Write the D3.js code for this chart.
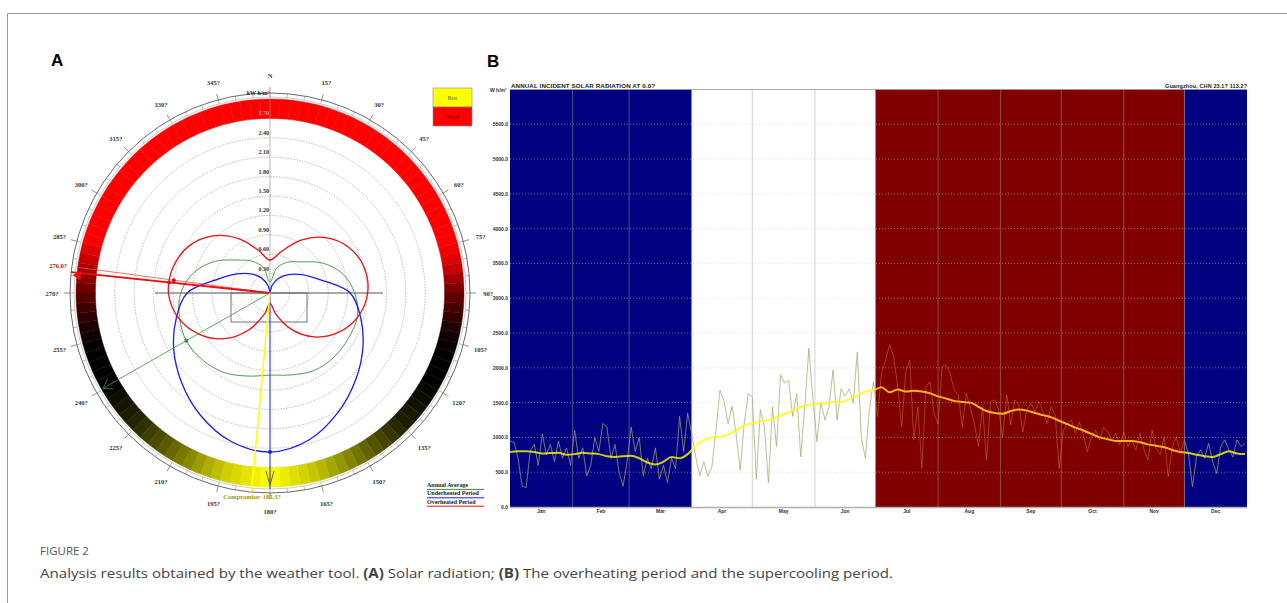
<!DOCTYPE html>
<html><head><meta charset="utf-8">
<script src="https://cdn.jsdelivr.net/npm/d3@7"></script>
<style>body{margin:0;background:#fff}svg{display:block}</style>
</head><body>
<svg id="c" width="1287" height="603"></svg>
<script>
// ---------------- DATA: panel A (polar radiation) ----------------
const polarAngles = [0,15,30,45,60,75,90,105,120,135,150,165,180,195,210,225,240,255,270,285,300,315,330,345];
const overheated  = [0.51,0.66,0.94,1.21,1.41,1.51,1.51,1.41,1.22,0.96,0.64,0.33,0.16,0.34,0.66,1.00,1.27,1.47,1.57,1.55,1.45,1.25,0.97,0.68];
const underheated = [0.02,0.12,0.26,0.40,0.57,0.80,1.24,1.45,1.66,1.88,2.12,2.35,2.46,2.37,2.17,1.94,1.72,1.50,1.28,0.83,0.59,0.42,0.27,0.12];
const annualAvg   = [0.17,0.40,0.55,0.68,0.93,1.16,1.31,1.40,1.40,1.40,1.38,1.31,1.27,1.33,1.42,1.47,1.49,1.45,1.38,1.22,0.98,0.72,0.57,0.41];
const ringValues  = [0.30,0.60,0.90,1.20,1.50,1.80,2.10,2.40,2.70];
const ringLabels  = ["0.30","0.60","0.90","1.20","1.50","1.80","2.10","2.40","2.70"];
const angleTicks  = [0,15,30,45,60,75,90,105,120,135,150,165,180,195,210,225,240,255,270,285,300,315,330,345];
const bandStopAngles = [0,75,83,90,98,106,118,135,150,165,180,195,210,225,240,254,262,270,278,287,360];
const bandStopColors = ['#ff0000','#ff0000','#c00000','#6a0000','#300000','#050000','#000000','#202000','#6a6a00','#c0c000','#ffff00','#c8c800','#707000','#282800','#000000','#050000','#280000','#600000','#b00000','#ff0000','#ff0000'];
const bestOverheated = 276.0, bestOverheated2 = 277.6;
const bestAnnual = 240.3, bestUnderheated = 180.0, compromise = 185.3;

// ---------------- DATA: panel B (daily incident radiation) ----------------
const months = ['Jan','Feb','Mar','Apr','May','Jun','Jul','Aug','Sep','Oct','Nov','Dec'];
const monthStartDays = [0,31,59,90,120,151,181,212,243,273,304,334,365];
const periodStart = [0,90,181,334];
const periodEnd   = [90,181,334,365];
const periodType  = ['under','neutral','over','under'];
const yTicks = [0,500,1000,1500,2000,2500,3000,3500,4000,4500,5000,5500];
// daily values every 2 days (day 0,2,...,364)
const dailyRadiation = [
 950,930,700,300,280,800,900,600,1050,750,900,650,950,700,850,600,
 1100,700,850,450,600,1000,800,1200,1150,700,900,500,300,650,
 1150,800,1000,450,700,550,850,400,600,350,700,550,1300,800,1350,
 1050,720,450,650,440,580,1100,1680,1520,1200,1450,1050,530,1200,1630,
 1580,400,1400,1150,350,1440,870,1900,1780,1820,1300,1630,720,1450,2280,1550,
 940,1500,1250,1440,1970,1250,1700,1590,1700,1500,2230,1000,700,1400,1800,
 1300,1920,2110,2330,2160,1730,1150,1945,2110,965,
 1440,555,1730,1800,1345,1200,2015,2040,1920,1680,
 1610,1150,1630,1420,1200,870,1440,675,1515,1540,
 1395,1010,1610,1180,1540,1465,1080,1395,1490,1370,
 1515,1370,1200,1440,1320,555,1105,1200,1250,1060,
 1225,1035,795,1010,1105,965,1150,1080,965,1060,
 890,1080,870,965,820,1060,820,675,1105,845,
 750,1010,435,870,1010,770,965,770,290,720,
 820,700,915,650,480,870,965,820,720,965,
 870,915];
// smoothed average every 4 days (day 0,4,...,364)
const averageRadiation = [
 790,800,800,790,770,775,780,750,760,780,770,760,730,720,730,735,700,640,610,650,720,700,760,
 880,960,1000,1010,1040,1100,1170,1200,1230,1250,1290,1340,1380,1440,1470,1480,1490,1510,1510,1550,1600,1660,1680,
 1720,1650,1690,1660,1670,1660,1635,1590,1560,1525,1510,1500,1440,1380,1350,1340,1380,1400,1385,1350,1320,1290,1240,
 1190,1140,1100,1050,1000,975,950,950,950,930,900,880,860,820,790,775,750,730,720,760,800,770,760];

// ---------------- DRAW ----------------
const svg = d3.select('#c');
const chartFont = "'Liberation Serif', serif";
const sansFont = "'Liberation Sans', Arial, sans-serif";

// frame
svg.append('path').attr('d','M7.5,603 V13.5 H1287').attr('fill','none').attr('stroke','#9a9a9a').attr('stroke-width',1);

svg.append('text').attr('x',51).attr('y',66).text('A')
  .attr('font-family',sansFont).attr('font-weight','bold').attr('font-size',17).attr('fill','#000');
svg.append('text').attr('x',487).attr('y',67).text('B')
  .attr('font-family',sansFont).attr('font-weight','bold').attr('font-size',17).attr('fill','#000');

// ===== Panel A =====
const cx = 270, cy = 293;
const gA = svg.append('g').attr('transform',`translate(${cx},${cy})`);
const r = d3.scaleLinear().domain([0,3]).range([0,194]);
const rad = a => a*Math.PI/180;
const pt = (a, rp) => [rp*Math.sin(rad(a)), -rp*Math.cos(rad(a))];

// dotted rings
gA.selectAll('circle.ring').data(ringValues).join('circle').attr('class','ring')
  .attr('r',d=>r(d)).attr('fill','none').attr('stroke','#9a9a9a').attr('stroke-width',0.7).attr('stroke-dasharray','1.4,1.4');

// coloured band
const bandColor = d3.scaleLinear().domain(bandStopAngles).range(bandStopColors).interpolate(d3.interpolateRgb);
const arc = d3.arc().innerRadius(r(2.7)).outerRadius(r(3.0));
gA.selectAll('path.band').data(d3.range(0,360,3)).join('path').attr('class','band')
  .attr('d',a=>arc({startAngle:rad(a),endAngle:rad(a+3)}))
  .attr('fill',a=>bandColor(a+1.5)).attr('stroke',a=>bandColor(a+1.5)).attr('stroke-width',0.4);

// outer scale ring
gA.append('circle').attr('r',196).attr('fill','none').attr('stroke','#aaa').attr('stroke-width',0.6);
gA.append('circle').attr('r',200).attr('fill','none').attr('stroke','#444').attr('stroke-width',0.8);
gA.selectAll('line.mt').data(d3.range(0,360,5)).join('line').attr('class','mt')
  .attr('x1',a=>pt(a,196)[0]).attr('y1',a=>pt(a,196)[1])
  .attr('x2',a=>pt(a,200)[0]).attr('y2',a=>pt(a,200)[1])
  .attr('stroke','#777').attr('stroke-width',0.5);
gA.selectAll('line.Mt').data(angleTicks).join('line').attr('class','Mt')
  .attr('x1',a=>pt(a,200)[0]).attr('y1',a=>pt(a,200)[1])
  .attr('x2',a=>pt(a,206)[0]).attr('y2',a=>pt(a,206)[1])
  .attr('stroke','#444').attr('stroke-width',0.6);
gA.selectAll('text.al').data(angleTicks).join('text').attr('class','al')
  .attr('x',a=>pt(a,218)[0]).attr('y',a=>pt(a,218)[1])
  .attr('text-anchor','middle').attr('dominant-baseline','central')
  .attr('font-family',chartFont).attr('font-weight','bold').attr('font-size',6.5).attr('fill','#333')
  .text(a=> a===0 ? 'N' : a+'?');

// axes
gA.append('line').attr('x1',0).attr('y1',0).attr('x2',0).attr('y2',-200).attr('stroke','#999').attr('stroke-width',0.7);
gA.append('line').attr('x1',-115).attr('y1',0).attr('x2',113).attr('y2',0).attr('stroke','#555').attr('stroke-width',1);
gA.append('rect').attr('x',-39).attr('y',0).attr('width',76).attr('height',29)
  .attr('fill','none').attr('stroke','#666').attr('stroke-width',0.9);

// ring value labels
gA.selectAll('text.rl').data(ringValues).join('text').attr('class','rl')
  .attr('x',-1).attr('y',d=>-r(d)-3).attr('text-anchor','end')
  .attr('font-family',chartFont).attr('font-weight','bold').attr('font-size',6)
  .attr('fill',(d,i)=> i===ringValues.length-1 ? '#ff9a9a' : '#333')
  .text((d,i)=>ringLabels[i]);
gA.append('text').attr('x',-12).attr('y',-198).attr('text-anchor','middle')
  .attr('font-family',chartFont).attr('font-weight','bold').attr('font-size',6).attr('fill','#222').text('kW h/m²');

// curves
const radial = d3.lineRadial().angle(d=>rad(d[0])).radius(d=>r(d[1])).curve(d3.curveCatmullRomClosed.alpha(0.5));
const mk = arr => polarAngles.map((a,i)=>[a,arr[i]]);
gA.append('path').attr('d',radial(mk(annualAvg))).attr('fill','none').attr('stroke','#3f8f3f').attr('stroke-width',0.9);
gA.append('path').attr('d',radial(mk(underheated))).attr('fill','none').attr('stroke','#1c1cf0').attr('stroke-width',1.3);
gA.append('path').attr('d',radial(mk(overheated))).attr('fill','none').attr('stroke','#e81010').attr('stroke-width',1.3);

// direction lines
function dirLine(a, len, color, w){
  const p = pt(a,len);
  gA.append('line').attr('x1',0).attr('y1',0).attr('x2',p[0]).attr('y2',p[1]).attr('stroke',color).attr('stroke-width',w);
}
function arrowHead(a, len, color, size){
  const tip = pt(a,len), b1 = pt(a-1.8, len-size), b2 = pt(a+1.8, len-size);
  gA.append('path').attr('d',`M${b1}L${tip}L${b2}`).attr('fill','none').attr('stroke',color).attr('stroke-width',0.8);
}
dirLine(bestAnnual,192,'#3f8f3f',0.8); arrowHead(bestAnnual,192,'#3f8f3f',8);
dirLine(bestUnderheated,196,'#1c1cf0',1); 
gA.append('path').attr('d','M-4,178 L0,192 L4,178').attr('fill','none').attr('stroke','#444').attr('stroke-width',0.8);
dirLine(bestOverheated2,195,'#e05050',0.8);
dirLine(bestOverheated,200,'#e81010',1.8); 
{ const tip = pt(bestOverheated-0.8,198), b1 = pt(bestOverheated-2.2,190), b2 = pt(bestOverheated+0.8,190);
  gA.append('path').attr('d',`M${b1}L${tip}L${b2}Z`).attr('fill','#e81010'); }
dirLine(compromise,200,'#ffff00',1.5);

// intersection dots
const dot = (a,v,c)=>{ const p=pt(a,r(v)); gA.append('circle').attr('cx',p[0]).attr('cy',p[1]).attr('r',2).attr('fill',c); };
dot(bestOverheated,1.57,'#e81010'); dot(bestOverheated2,1.50,'#e81010');
dot(bestAnnual,1.49,'#3f8f3f'); dot(bestUnderheated,2.46,'#1c1cf0');

// labels
{ const p = pt(bestOverheated,207);
  gA.append('text').attr('x',p[0]-6).attr('y',p[1]-3).attr('text-anchor','middle')
    .attr('font-family',chartFont).attr('font-weight','bold').attr('font-size',6.5).attr('fill','#b01010').text(bestOverheated.toFixed(1)+'?'); }
gA.append('text').attr('x',-18).attr('y',206).attr('text-anchor','middle')
  .attr('font-family',chartFont).attr('font-weight','bold').attr('font-size',6.5).attr('fill','#9a9a00').text('Compromise: '+compromise+'?');

// legend top right
svg.append('rect').attr('x',433).attr('y',88).attr('width',39).attr('height',19).attr('fill','#ffff00').attr('stroke','#888').attr('stroke-width',0.6);
svg.append('rect').attr('x',433).attr('y',107).attr('width',39).attr('height',19).attr('fill','#ff0000').attr('stroke','#888').attr('stroke-width',0.6);
svg.append('text').attr('x',452.5).attr('y',99.5).attr('text-anchor','middle').attr('font-family',chartFont).attr('font-size',5.5).attr('fill','#666').text('Best');
svg.append('text').attr('x',452.5).attr('y',118.5).attr('text-anchor','middle').attr('font-family',chartFont).attr('font-size',5.5).attr('fill','#700').text('Worst');

// legend bottom right
const legItems = [['Annual Average','#3f8f3f'],['Underheated Period','#1c1cf0'],['Overheated Period','#e81010']];
legItems.forEach((d,i)=>{
  svg.append('text').attr('x',427).attr('y',487+i*8.4).attr('font-family',chartFont).attr('font-weight','bold')
    .attr('font-size',6).attr('fill','#222').text(d[0]);
  svg.append('line').attr('x1',427).attr('x2',484).attr('y1',489.4+i*8.4).attr('y2',489.4+i*8.4).attr('stroke',d[1]).attr('stroke-width',1);
});

// ===== Panel B =====
const x = d3.scaleLinear().domain([0,365]).range([510,1247]);
const y = d3.scaleLinear().domain([0,6000]).range([507,89.5]);
const pColor = {under:'#000080', neutral:'#ffffff', over:'#800000'};
const gB = svg.append('g');
gB.selectAll('rect.per').data(periodStart).join('rect').attr('class','per')
  .attr('x',(d,i)=>x(d)).attr('width',(d,i)=>x(periodEnd[i])-x(d))
  .attr('y',y(6000)).attr('height',y(0)-y(6000)).attr('fill',(d,i)=>pColor[periodType[i]]);
// clip for overheated period
const defs = svg.append('defs');
const clipOver = defs.append('clipPath').attr('id','clipOver');
const clipOther = defs.append('clipPath').attr('id','clipOther');
periodStart.forEach((d,i)=>{
  const target = periodType[i]==='over' ? clipOver : clipOther;
  target.append('rect').attr('x',x(d)).attr('width',x(periodEnd[i])-x(d)).attr('y',0).attr('height',603);
});
// horizontal dotted grid
gB.selectAll('line.gy').data(yTicks.slice(1)).join('line').attr('class','gy')
  .attr('x1',x(0)).attr('x2',x(365)).attr('y1',d=>y(d)).attr('y2',d=>y(d))
  .attr('stroke','#c8c8c8').attr('stroke-opacity',0.75).attr('stroke-width',0.7).attr('stroke-dasharray','1,2');
// month dividers
gB.selectAll('line.mv').data(monthStartDays.slice(1,-1)).join('line').attr('class','mv')
  .attr('x1',d=>x(d)).attr('x2',d=>x(d)).attr('y1',y(6000)).attr('y2',y(0))
  .attr('stroke','#a0a0a0').attr('stroke-opacity',0.6).attr('stroke-width',0.8);
// top & bottom lines
gB.append('line').attr('x1',x(0)).attr('x2',x(365)).attr('y1',y(6000)).attr('y2',y(6000)).attr('stroke','#999').attr('stroke-width',0.8);
gB.append('line').attr('x1',x(0)).attr('x2',x(365)).attr('y1',y(0)+0.5).attr('y2',y(0)+0.5).attr('stroke','#b0b0b0').attr('stroke-width',1.5);

// y labels
gB.selectAll('text.yl').data(yTicks).join('text').attr('class','yl')
  .attr('x',508).attr('y',d=>y(d)+2).attr('text-anchor','end')
  .attr('font-family',sansFont).attr('font-weight','bold').attr('font-size',5).attr('fill','#333')
  .text(d=>d.toFixed(1));
gB.append('text').attr('x',490).attr('y',92).attr('font-family',sansFont).attr('font-weight','bold')
  .attr('font-size',5).attr('fill','#333').text('W h/m²');
// month labels
gB.selectAll('text.ml').data(months).join('text').attr('class','ml')
  .attr('x',(d,i)=>x((monthStartDays[i]+monthStartDays[i+1])/2)).attr('y',513)
  .attr('text-anchor','middle').attr('font-family',sansFont).attr('font-weight','bold').attr('font-size',5).attr('fill','#333')
  .text(d=>d);
// titles
gB.append('text').attr('x',511).attr('y',88).attr('font-family',sansFont).attr('font-weight','bold')
  .attr('font-size',6.2).attr('fill','#222').attr('textLength',144).attr('lengthAdjust','spacing')
  .text('ANNUAL INCIDENT SOLAR RADIATION AT 0.0?');
gB.append('text').attr('x',1247).attr('y',88).attr('text-anchor','end').attr('font-family',sansFont).attr('font-weight','bold')
  .attr('font-size',5.5).attr('fill','#222').attr('textLength',82).attr('lengthAdjust','spacing')
  .text('Guangzhou, CHN  23.1? 113.2?');

// series
const dailyDays = d3.range(0,365,2);
const avgDays = d3.range(0,365,4);
const line = d3.line().x(d=>x(d[0])).y(d=>y(d[1]));
const dailyD = line(dailyDays.map((d,i)=>[d,dailyRadiation[i]]));
gB.append('path').attr('d',dailyD).attr('clip-path','url(#clipOther)')
  .attr('fill','none').attr('stroke','#a4a46c').attr('stroke-opacity',0.8).attr('stroke-width',0.9);
gB.append('path').attr('d',dailyD).attr('clip-path','url(#clipOver)')
  .attr('fill','none').attr('stroke','#c08030').attr('stroke-opacity',0.55).attr('stroke-width',0.9);
const avgLine = d3.line().x(d=>x(d[0])).y(d=>y(d[1])).curve(d3.curveMonotoneX);
const avgD = avgLine(avgDays.map((d,i)=>[d,averageRadiation[i]]));
gB.append('path').attr('d',avgD).attr('clip-path','url(#clipOther)')
  .attr('fill','none').attr('stroke','#ffff00').attr('stroke-opacity',0.8).attr('stroke-width',2);
gB.append('path').attr('d',avgD).attr('clip-path','url(#clipOver)')
  .attr('fill','none').attr('stroke','#f6b020').attr('stroke-width',2);

// caption
svg.append('text').attr('x',40).attr('y',555).attr('font-family',"'Open Sans', sans-serif").attr('font-size',11.5)
  .attr('fill','#555').text('FIGURE 2');
const cap = svg.append('text').attr('x',40).attr('y',578).attr('font-family',"'Open Sans', sans-serif").attr('font-size',13.5)
  .attr('fill','#444').attr('textLength',853).attr('lengthAdjust','spacingAndGlyphs');
cap.append('tspan').text('Analysis results obtained by the weather tool. ');
cap.append('tspan').attr('font-weight','bold').text('(A)');
cap.append('tspan').text(' Solar radiation; ');
cap.append('tspan').attr('font-weight','bold').text('(B)');
cap.append('tspan').text(' The overheating period and the supercooling period.');
</script>
</body></html>
